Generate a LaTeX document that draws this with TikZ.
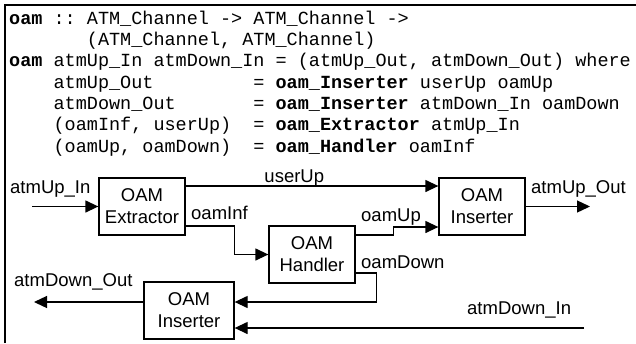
\documentclass[tikz,border=0pt]{standalone}
\usepackage{fontspec}
\newfontfamily\codefont{Liberation Mono}
\newfontfamily\labelfont{Liberation Sans}
\usetikzlibrary{arrows.meta}
\tikzset{
  box/.style={draw, line width=1.3pt, minimum width=86pt, minimum height=57pt, align=center, inner sep=0pt, font=\labelfont\fontsize{18.5}{22}\selectfont},
  flow/.style={line width=1.3pt, -{Triangle[length=13pt,width=12pt]}},
  lbl/.style={anchor=base west, inner sep=0pt, font=\labelfont\fontsize{18.5}{22}\selectfont},
  code/.style={anchor=base west, inner sep=0pt, font=\codefont\fontsize{18.5}{21.3}\selectfont},
}
\frenchspacing
\begin{document}
\begin{tikzpicture}[x=1pt,y=-1pt]
  \useasboundingbox (0,0) rectangle (636,343);
  \draw[line width=1.3pt] (5,343) -- (5,5) -- (636,5);
  % the code
  \node[code] (c1) at (9,24) {\textbf{oam} ::~ATM\_Channel~->~ATM\_Channel~->};
  \node[code] (c2) at (9,45.3) {~~~~~~~(ATM\_Channel,~ATM\_Channel)};
  \node[code] (c3) at (9,66.7) {\textbf{oam} atmUp\_In~atmDown\_In~=~(atmUp\_Out,~atmDown\_Out)~where};
  \node[code] (c4) at (9,88) {~~~~atmUp\_Out~~~~~~~~~=~\textbf{oam\_Inserter}~userUp~oamUp};
  \node[code] (c5) at (9,109.3) {~~~~atmDown\_Out~~~~~~~=~\textbf{oam\_Inserter}~atmDown\_In~oamDown};
  \node[code] (c6) at (9,130.7) {~~~~(oamInf,~userUp)~~=~\textbf{oam\_Extractor}~atmUp\_In};
  \node[code] (c7) at (9,152) {~~~~(oamUp,~oamDown)~~=~\textbf{oam\_Handler}~oamInf};
  % the boxes
  \node[box] (ext) at (142,206.5) {OAM\\Extractor};
  \node[box] (hdl) at (312,254.5) {OAM\\Handler};
  \node[box] (insU) at (482,206.5) {OAM\\Inserter};
  \node[box, minimum width=90pt] (insD) at (189,310.5) {OAM\\Inserter};
  \coordinate (upin) at (32,206.5);
  \coordinate (upout) at (590,206.5);
  \coordinate (dnin) at (584,328);
  \coordinate (dnout) at (34,302);
  % the channels
  \draw[flow] (upin) -- (ext.west);
  \draw[flow] ([yshift=20.5pt]ext.east) -- ([yshift=20.5pt]insU.west)
    node[pos=.43, anchor=base, yshift=4pt, inner sep=0pt, font=\labelfont\fontsize{18.5}{22}\selectfont] (tUser) {userUp};
  \draw[flow] ([yshift=-19.5pt]ext.east) -- ++(49,0) |- (hdl.west);
  \draw[flow] ([yshift=19.5pt]hdl.east) -- ++(38,0) |- ([yshift=-20.5pt]insU.west);
  \draw[flow] ([yshift=-18.5pt]hdl.east) -- ++(21,0) |- ([yshift=8.5pt]insD.east);
  \draw[flow] (insU.east) -- (upout);
  \draw[flow] (dnin) -- (dnin -| insD.east);
  \draw[flow] ([yshift=8.5pt]insD.west) -- (dnout);
  \node[lbl] (tUpIn) at (10,193) {atmUp\_In};
  \node[lbl] (tUpOut) at (531,193) {atmUp\_Out};
  \node[lbl] (tInf) at (191,219) {oamInf};
  \node[lbl] (tUp) at (361,221) {oamUp};
  \node[lbl] (tDown) at (361,268) {oamDown};
  \node[lbl] (tDnIn) at (467,314) {atmDown\_In};
  \node[lbl] (tDnOut) at (14,286) {atmDown\_Out};
\end{tikzpicture}
\end{document}
